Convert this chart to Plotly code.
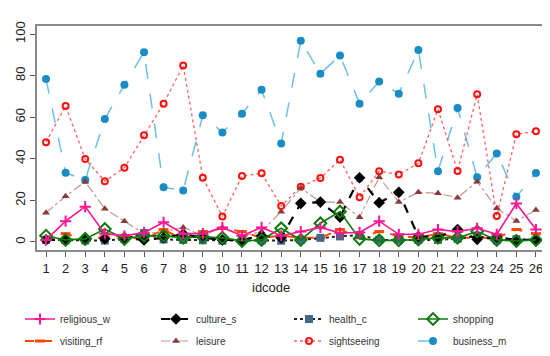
import plotly.graph_objects as go

idcode = list(range(1, 27))
tick_labels = [str(i) for i in idcode]

religious_w = [1, 10, 17, 4, 3, 4.5, 9.5, 4, 4, 7, 3, 7, 3, 5, 7, 4.3, 4.6, 10, 3.7, 3.7, 6, 5, 6.6, 3.7, 18.5, 6]
culture_s = [1, 1, 1, 1.5, 2, 1, 2, 3.8, 2, 1, 1, 3, 2, 18.6, 19.2, 12, 30.9, 18.9, 23.9, 2.6, 2.5, 6, 1.3, 2.3, 1, 1]
health_c = [1, 0.8, 0.7, 0.7, 1.5, 4.3, 1.2, 1, 0.8, 0.6, 0.6, 0.8, 0.6, 1, 2, 2.7, 3.4, 1, 1, 1, 1, 1.5, 3, 0.8, 1.3, 1]
shopping = [3, 1, 1.5, 6.2, 1.5, 3, 3, 2, 2.5, 2, 0.5, 1, 6.6, 1, 9, 14.6, 1.5, 0.8, 0.8, 1.2, 2, 2, 5, 1, 0.5, 1]
visiting_rf = [1, 4, 1, 2.5, 3, 1, 6, 1, 5, 6.5, 5, 2, 3, 2, 2, 6, 2, 5, 3, 2, 4, 2, 2, 2, 6, 4]
leisure = [14, 22, 29, 16, 10, 4, 5, 7, 3, 7, 3, 5, 14.6, 26, 19.2, 19.2, 11.9, 31.1, 19.2, 23.9, 23.4, 21.3, 29, 16.2, 10.1, 15.4]
sightseeing = [48, 65.4, 39.9, 29.2, 35.7, 51.3, 66.5, 84.9, 30.9, 12.3, 31.7, 33, 17.3, 26.6, 30.8, 39.6, 21.5, 34, 32.5, 37.8, 63.8, 34.1, 71, 12.5, 51.8, 53.2]
business_m = [78.4, 33.3, 29.8, 59.1, 75.6, 91.2, 26.3, 24.8, 60.9, 52.7, 61.7, 73.2, 47.4, 96.8, 80.9, 89.7, 66.5, 77.2, 71.3, 92.3, 34, 64.4, 31.1, 42.6, 21.8, 33.2]

fig = go.Figure()

def add(name, y, lcolor, dash, width, symbol, mcolor, msize, legend, mline=None):
    marker = dict(symbol=symbol, color=mcolor, size=msize)
    if mline:
        marker["line"] = mline
    fig.add_trace(go.Scatter(
        x=idcode, y=y, name=name, mode="lines+markers",
        line=dict(color=lcolor, dash=dash, width=width),
        marker=marker, legend=legend,
    ))

add("business_m", business_m, "#6CC0E5", "longdash", 1.5, "circle", "#1A8CC4", 8, "legend8")
add("sightseeing", sightseeing, "#FF6060", "dot", 1.3, "circle-open", "#FF1010", 6, "legend7", dict(width=2, color="#FF1010"))
add("leisure", leisure, "#C09595", "dashdot", 1.2, "triangle-up", "#8B3A3A", 7, "legend6")
add("visiting_rf", visiting_rf, "#FF4500", "dash", 2, "line-ew", "#FF4500", 7, "legend5", dict(width=3, color="#FF4500"))
add("health_c", health_c, "#222222", "dot", 2, "square", "#42698A", 8, "legend3")
add("culture_s", culture_s, "#000000", "dash", 2.2, "diamond", "#000000", 9, "legend2")
add("shopping", shopping, "#0B7A0B", "solid", 1.6, "diamond-open", "#0B7A0B", 9, "legend4", dict(width=2, color="#0B7A0B"))
add("religious_w", religious_w, "#FF1493", "solid", 1.6, "cross-thin", "#FF1493", 8, "legend", dict(width=2, color="#FF1493"))

# page body has an 8px margin: figure is drawn 8px right/down of the window corner
W, H = 542, 348
L, T = 29, 18
PW, PH = 507, 224

col_x = [(12 - L) / PW, (148 - L) / PW, (281 - L) / PW, (405 - L) / PW]
row_y = [-(311 - (T + PH)) / PH, -(333 - (T + PH)) / PH]

legend_names = ["legend", "legend2", "legend3", "legend4", "legend5", "legend6", "legend7", "legend8"]
legends = {}
for i, nm in enumerate(legend_names):
    legends[nm] = dict(
        x=col_x[i % 4], xanchor="left", y=row_y[i // 4], yanchor="middle",
        font=dict(size=10, color="#333"), bgcolor="rgba(0,0,0,0)",
        orientation="v",
    )

fig.update_layout(
    width=W, height=H,
    margin=dict(l=L, r=W - L - PW, t=T, b=H - T - PH, autoexpand=False),
    paper_bgcolor="white", plot_bgcolor="white",
    font=dict(family="Liberation Sans, Arial, sans-serif", color="#222"),
    showlegend=True,
    **legends,
    xaxis=dict(
        range=[0.54, 26.41], tickmode="array", tickvals=idcode, ticktext=tick_labels,
        showgrid=False, zeroline=False, showline=True, mirror=True, automargin=False,
        linecolor="#8A8A8A", linewidth=1.5,
        ticks="outside", ticklen=5, tickcolor="#555", ticklabelstandoff=1,
        tickfont=dict(size=13, color="#222"),
    ),
    yaxis=dict(
        range=[-3.85, 103.85], tickmode="array", tickvals=[0, 20, 40, 60, 80, 100],
        showgrid=False, zeroline=False, showline=True, mirror=True, automargin=False,
        linecolor="#8A8A8A", linewidth=1.5,
        ticks="outside", ticklen=5, tickcolor="#555",
        tickangle=-90, tickfont=dict(size=13, color="#222"),
    ),
    annotations=[dict(
        text="idcode", xref="paper", yref="paper",
        x=(263 - L) / PW, y=-(279 - (T + PH)) / PH,
        xanchor="center", yanchor="middle", showarrow=False,
        font=dict(size=13, color="#222"),
    )],
)

fig.write_html("out.html")
